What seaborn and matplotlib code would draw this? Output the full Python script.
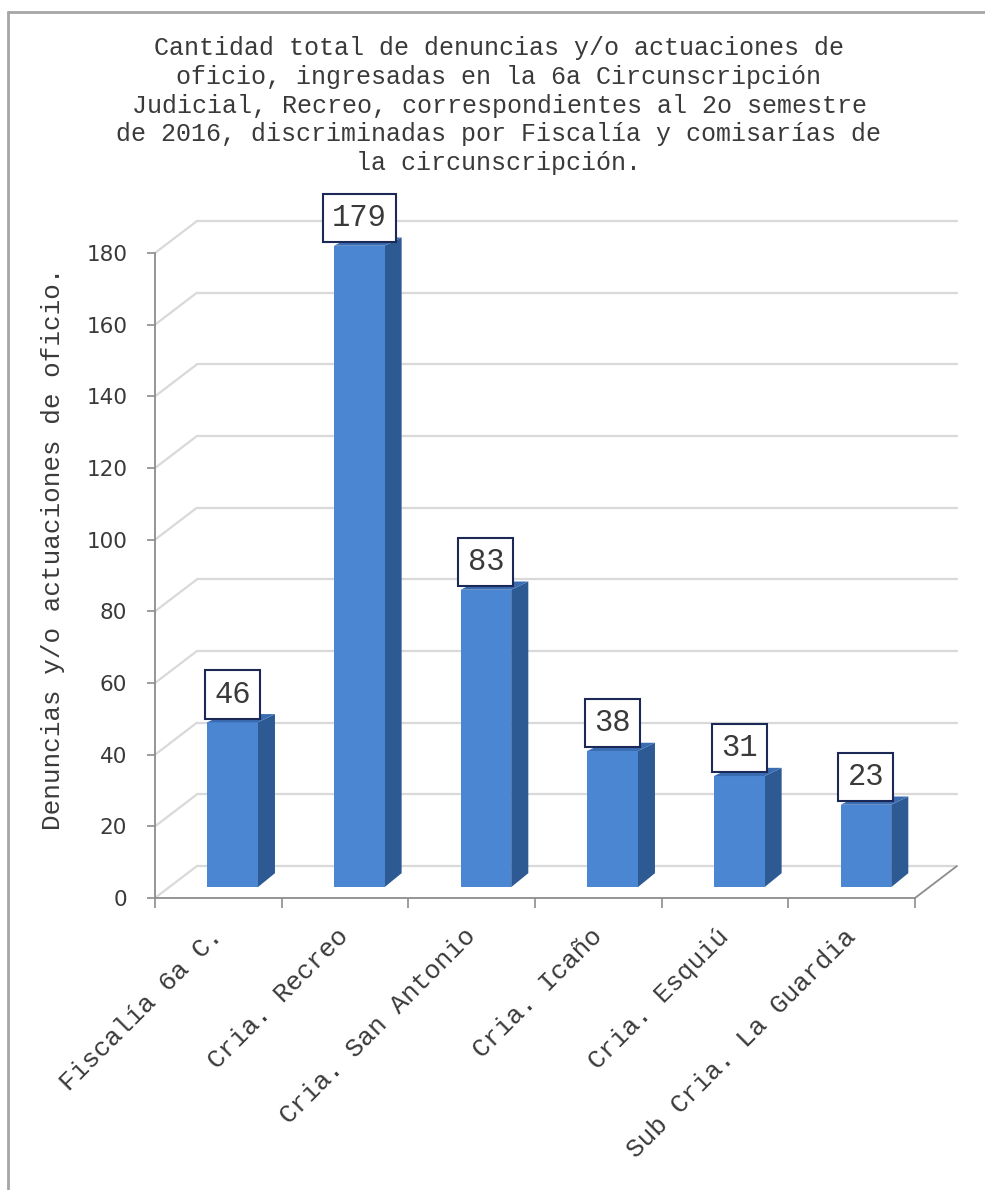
import matplotlib
matplotlib.use("Agg")
import matplotlib.pyplot as plt
from matplotlib.patches import Polygon
from matplotlib.lines import Line2D
import seaborn as sns
import pandas as pd

# data
categories = ["Fiscalía 6a C.", "Cria. Recreo", "Cria. San Antonio",
              "Cria. Icaño", "Cria. Esquiú", "Sub Cria. La Guardia"]
values = [46, 179, 83, 38, 31, 23]
y_ticks = [0, 20, 40, 60, 80, 100, 120, 140, 160, 180]
title_lines = [
    "Cantidad total de denuncias y/o actuaciones de",
    "oficio, ingresadas en la 6a Circunscripción",
    "Judicial, Recreo, correspondientes al 2o semestre",
    "de 2016, discriminadas por Fiscalía y comisarías de",
    "la circunscripción.",
]
y_label = "Denuncias y/o actuaciones de oficio."

# styling
FRONT = "#4a86d2"
SIDE = "#2e5a94"
TOP = "#3a6cb2"
GRID = "#d9d9d9"
AXIS = "#8c8c8c"
BOX = "#1c2856"
TXT = "#3a3a3a"
MONO = "Liberation Mono"

# fake 3D: depth of the floor and of each column, in data units
floor_dx, floor_dy = 0.33, 8.9
bar_pos = 0.34          # where the column front sits within the floor depth
bar_dx = 0.135
bar_dy_bottom, bar_dy_top = 3.9, 2.3

sns.set_theme(style="white")
plt.rcParams["font.family"] = ["DejaVu Sans"]

W, H = 985, 1190
fig = plt.figure(figsize=(W / 100, H / 100), dpi=100)
ax = fig.add_axes([155 / W, (H - 898) / H, 760 / W, 645 / H])

df = pd.DataFrame({"cat": categories, "val": values})
sns.barplot(data=df, x="cat", y="val", color=FRONT, width=0.4,
            saturation=1, ax=ax, zorder=4, linewidth=0)

# back wall / side wall gridlines
for t in y_ticks:
    ax.plot([-0.5 + floor_dx, 5.5 + floor_dx], [t + floor_dy, t + floor_dy],
            color=GRID, lw=1.6, clip_on=False, zorder=1)
    ax.plot([-0.5, -0.5 + floor_dx], [t, t + floor_dy],
            color=GRID, lw=1.6, clip_on=False, zorder=1)
ax.plot([5.5, 5.5 + floor_dx], [0, floor_dy], color=AXIS, lw=1.3,
        clip_on=False, zorder=2)

# columns: move front face into the floor and add side/top faces
for p, v in zip(list(ax.patches), values):
    p.set_clip_on(False)
    p.set_x(p.get_x() + bar_pos * floor_dx)
    p.set_y(bar_pos * floor_dy)
    x0 = p.get_x()
    x1 = x0 + p.get_width()
    y0 = p.get_y()
    y1 = y0 + p.get_height()
    side = Polygon([(x1, y0), (x1 + bar_dx, y0 + bar_dy_bottom),
                    (x1 + bar_dx, y1 + bar_dy_top), (x1, y1)],
                   closed=True, facecolor=SIDE, edgecolor="none",
                   zorder=3, clip_on=False)
    top = Polygon([(x0, y1), (x1, y1), (x1 + bar_dx, y1 + bar_dy_top),
                   (x0 + bar_dx, y1 + bar_dy_top)],
                  closed=True, facecolor=TOP, edgecolor="none",
                  zorder=5, clip_on=False)
    ax.add_patch(side)
    ax.add_patch(top)
    ax.annotate(str(v), xy=((x0 + x1) / 2, y1), xytext=(0, 20),
                textcoords="offset points", ha="center", va="center",
                fontsize=22, family=MONO, color=TXT, zorder=6,
                annotation_clip=False,
                bbox=dict(boxstyle="square,pad=0.3", fc="white",
                          ec=BOX, lw=1.5))

ax.set_xlim(-0.5, 5.5)
ax.set_ylim(0, 180)
ax.set_xlabel("")
ax.set_ylabel("")
ax.set_facecolor("none")
for s in ["top", "right"]:
    ax.spines[s].set_visible(False)
for s in ["left", "bottom"]:
    ax.spines[s].set_color(AXIS)
    ax.spines[s].set_linewidth(1.3)
    ax.spines[s].set_zorder(2)

ax.set_yticks(y_ticks)
ax.set_yticklabels([str(t) for t in y_ticks])
ax.tick_params(axis="y", direction="out", length=6, width=1.2, color=AXIS,
               pad=14, labelsize=15.5, labelcolor=TXT, left=True)

ax.set_xticks(range(len(categories)))
ax.set_xticks([i - 0.5 for i in range(len(categories) + 1)], minor=True)
ax.set_xticklabels(categories, rotation=45, ha="right",
                   rotation_mode="anchor", family=MONO, fontsize=18.8,
                   color=TXT)
for lbl in ax.get_xticklabels():
    lbl.set_va("center")
ax.tick_params(axis="x", which="major", length=0, pad=25)
ax.tick_params(axis="x", which="minor", direction="out", length=7,
               width=1.2, color=AXIS, bottom=True)

fig.text(499 / W, 1 - 105.5 / H, "\n".join(title_lines), ha="center",
         va="center", multialignment="center", family=MONO, fontsize=18,
         linespacing=1.25, color=TXT)
fig.text(53 / W, 1 - 549 / H, y_label, rotation=90, ha="center",
         va="center", family=MONO, fontsize=18.7, color=TXT)

# chart frame (only left and top edges show)
fig.add_artist(Line2D([8 / W, 8 / W], [0, 1 - 12 / H],
                      transform=fig.transFigure, color="#a6a6a6", lw=2))
fig.add_artist(Line2D([8 / W, 1], [1 - 12 / H, 1 - 12 / H],
                      transform=fig.transFigure, color="#a6a6a6", lw=2))

fig.savefig("out.png", dpi=100, facecolor="white")
